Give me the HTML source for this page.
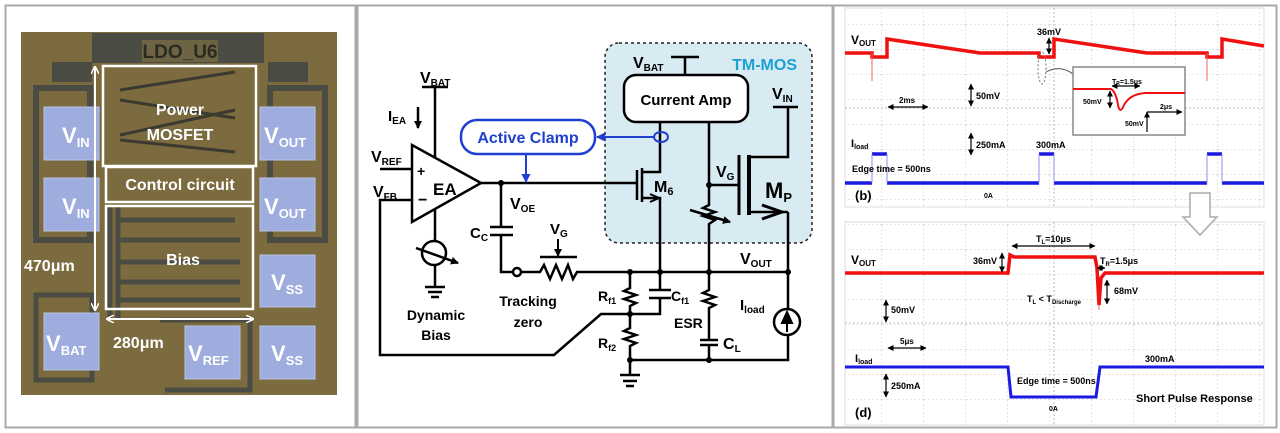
<!DOCTYPE html>
<html><head><meta charset="utf-8"><style>
html,body{margin:0;padding:0;background:#fff;width:1280px;height:433px;overflow:hidden}
svg{display:block}
text{font-family:"Liberation Sans",sans-serif;font-weight:bold}
</style></head><body>
<svg width="1280" height="433" viewBox="0 0 1280 433" xmlns="http://www.w3.org/2000/svg">
<defs>
<marker id="ah" markerWidth="8" markerHeight="8" refX="7" refY="4" orient="auto" markerUnits="userSpaceOnUse"><path d="M0,0 L8,4 L0,8 z" fill="#000"/></marker>
<marker id="ahb" markerWidth="9" markerHeight="9" refX="8" refY="4.5" orient="auto" markerUnits="userSpaceOnUse"><path d="M0,0 L9,4.5 L0,9 z" fill="#1f3fd0"/></marker>
<marker id="aw" markerWidth="8" markerHeight="8" refX="7" refY="4" orient="auto-start-reverse" markerUnits="userSpaceOnUse"><path d="M0,0 L8,4 L0,8" fill="none" stroke="#fff" stroke-width="1.5"/></marker>
<marker id="ak" markerWidth="6" markerHeight="6" refX="5.5" refY="3" orient="auto-start-reverse" markerUnits="userSpaceOnUse"><path d="M0,0 L6,3 L0,6 z" fill="#000"/></marker>
<pattern id="grid" width="42" height="25" patternUnits="userSpaceOnUse"><path d="M42,0 V25 M0,25 H42" stroke="#ccc" stroke-width="1" stroke-dasharray="2,2" fill="none"/></pattern>
</defs>

<rect x="5.5" y="5.5" width="350" height="422" fill="#fff" stroke="#aaa" stroke-width="2"/>
<rect x="357.5" y="5.5" width="475" height="422" fill="#fff" stroke="#aaa" stroke-width="2"/>
<rect x="833.5" y="5.5" width="443" height="422" fill="#fff" stroke="#aaa" stroke-width="2"/>

<!-- Panel 1 -->
<rect x="21" y="32" width="316" height="363" fill="#7b6b3e"/>
<rect x="92" y="33" width="172" height="30" fill="#4b4d44"/>
<rect x="142" y="40" width="76" height="22" fill="#6e6444"/>
<text x="180" y="58" font-size="19" fill="#2a2a20" text-anchor="middle">LDO_U6</text>
<rect x="52" y="62" width="40" height="20" fill="#4b4d44"/>
<rect x="268" y="62" width="40" height="20" fill="#4b4d44"/>
<path d="M36,88 H90 V240 H36 Z M270,88 H325 V240 H270 Z" fill="none" stroke="#4b4d44" stroke-width="6"/>
<path d="M36,295 H92 V380 H36 Z M110,205 V320 M118,205 V320 M160,320 H250 V390 H165" fill="none" stroke="#4b4d44" stroke-width="5"/>
<path d="M120,220 H235 M120,240 H240 M120,262 H240 M120,282 H240 M120,300 H240" stroke="#4b4d44" stroke-width="5"/>
<path d="M120,90 L235,72 M120,100 L235,118 M120,135 L235,110 M120,140 L235,152" stroke="#3a3a30" stroke-width="3" fill="none"/>
<g fill="#9eaddd" stroke="#b8c4e8" stroke-width="1">
<rect x="44" y="107" width="55" height="53"/><rect x="44" y="178" width="55" height="53"/><rect x="44" y="313" width="55" height="57"/>
<rect x="260" y="107" width="55" height="53"/><rect x="260" y="178" width="55" height="53"/><rect x="260" y="255" width="55" height="52"/><rect x="260" y="326" width="55" height="53"/><rect x="185" y="326" width="55" height="53"/>
</g>
<g fill="none" stroke="#fff" stroke-width="2.5">
<rect x="103" y="66" width="153" height="100"/>
<rect x="106" y="167" width="147" height="35"/>
<rect x="106" y="206" width="147" height="103"/>
</g>
<line x1="95" y1="67" x2="95" y2="310" stroke="#fff" stroke-width="2" marker-start="url(#aw)" marker-end="url(#aw)"/>
<line x1="107" y1="319" x2="253" y2="319" stroke="#fff" stroke-width="2" marker-start="url(#aw)" marker-end="url(#aw)"/>
<g fill="#fff">
<text x="180" y="115" font-size="16" text-anchor="middle">Power</text>
<text x="180" y="140" font-size="16" text-anchor="middle">MOSFET</text>
<text x="180" y="190" font-size="16" text-anchor="middle">Control circuit</text>
<text x="183" y="265" font-size="16" text-anchor="middle">Bias</text>
<text x="24" y="271" font-size="16">470μm</text>
<text x="113" y="348" font-size="16">280μm</text>
<text x="62" y="143" font-size="22">V<tspan font-size="13" dy="4">IN</tspan></text>
<text x="62" y="214" font-size="22">V<tspan font-size="13" dy="4">IN</tspan></text>
<text x="46" y="351" font-size="22">V<tspan font-size="13" dy="4">BAT</tspan></text>
<text x="264" y="143" font-size="22">V<tspan font-size="13" dy="4">OUT</tspan></text>
<text x="264" y="214" font-size="22">V<tspan font-size="13" dy="4">OUT</tspan></text>
<text x="271" y="290" font-size="22">V<tspan font-size="13" dy="4">SS</tspan></text>
<text x="271" y="361" font-size="22">V<tspan font-size="13" dy="4">SS</tspan></text>
<text x="188" y="361" font-size="22">V<tspan font-size="13" dy="4">REF</tspan></text>
</g>

<!-- Panel 2 -->
<rect x="605" y="43" width="207" height="200" rx="14" fill="#d8ebf3" stroke="#222" stroke-width="1.5" stroke-dasharray="3,3"/>
<text x="797" y="70" font-size="16" fill="#1ba0d2" text-anchor="end">TM-MOS</text>
<g stroke="#000" stroke-width="2.5" fill="none">
<path d="M671,57 H699 M685,57 V75"/>
<rect x="624" y="75" width="124" height="47" rx="12" fill="#fff"/>
<path d="M773,107 H798 M788,107 V157 H750"/>
<path d="M412,145 L412,222 L481,183 Z"/>
<path d="M422,87 H448 M435,87 V158"/>
<path d="M380,169 H412 M412,200 H380 V355 H554 L601,314 H660 V298"/>
<path d="M435,210 V241 M435,265 V287 M425,287 H445 M428,292 H442 M431,297 H439"/>
<circle cx="434" cy="253" r="12"/>
<path d="M481,183 H636"/>
<path d="M501,183 V227 M490,227 H513 M490,235 H513 M501,235 V272 H513"/>
<circle cx="517" cy="272" r="4"/>
<path d="M521,272 H540 L544,265 L550,279 L556,265 L562,279 L568,265 L573,279 L577,272 H788"/>
<path d="M540,257 H577"/>
<path d="M637,170 V200 M642,168 V202 M642,172 H660 V122 M642,198 H660 V290 M649,290 H671 M649,298 H671"/>
<path d="M709,122 V205 L703,208 L715,212 L703,216 L715,220 L709,224 V290 L703,293 L715,297 L703,301 L715,305 L709,308 V340 M700,340 H718 M700,345 H718 M709,345 V360"/>
<path d="M709,185 H738"/>
<path d="M739,155 V215" stroke-width="3"/>
<path d="M749,155 V215" stroke-width="4"/>
<path d="M749,212 H788 M788,212 V310 M788,335 V360 H630"/>
<circle cx="787" cy="322" r="13"/>
<path d="M630,272 V288 L624,291 L636,295 L624,299 L636,303 L630,306 V328 L624,331 L636,335 L624,339 L636,343 L630,346 V375 M620,375 H640 M623,381 H637 M626,386 H634"/>
</g>
<path d="M787,312 L782,323 L792,323 Z M787,312 V332" fill="#000" stroke="#000" stroke-width="2"/>
<path d="M762,205 L782,212 L762,219" fill="none" stroke="#000" stroke-width="3"/>
<path d="M650,194 L659,198 L650,202" fill="none" stroke="#000" stroke-width="2"/>
<line x1="690" y1="210" x2="730" y2="222" stroke="#000" stroke-width="2.5" marker-end="url(#ah)"/>
<line x1="416" y1="248" x2="458" y2="263" stroke="#000" stroke-width="2.5" marker-end="url(#ah)"/>
<line x1="558" y1="239" x2="558" y2="256" stroke="#000" stroke-width="2" marker-end="url(#ah)"/>
<line x1="418" y1="107" x2="418" y2="128" stroke="#000" stroke-width="2.5" marker-end="url(#ah)"/>
<g fill="#000"><circle cx="501" cy="183" r="3"/><circle cx="630" cy="272" r="3"/><circle cx="660" cy="272" r="3"/><circle cx="709" cy="272" r="3"/><circle cx="788" cy="272" r="3"/><circle cx="709" cy="185" r="3"/><circle cx="630" cy="314" r="3"/><circle cx="630" cy="360" r="3"/><circle cx="709" cy="360" r="3"/></g>
<rect x="461" y="120" width="134" height="34" rx="16" fill="#fff" stroke="#1f3fd0" stroke-width="2.5"/>
<text x="528" y="143" font-size="16" fill="#1f3fd0" text-anchor="middle">Active Clamp</text>
<ellipse cx="661" cy="137" rx="7" ry="5" fill="none" stroke="#1f3fd0" stroke-width="2"/>
<line x1="654" y1="137" x2="597" y2="137" stroke="#1f3fd0" stroke-width="2" marker-end="url(#ahb)"/>
<line x1="526" y1="154" x2="526" y2="182" stroke="#1f3fd0" stroke-width="2" marker-end="url(#ahb)"/>
<g fill="#000">
<text x="686" y="105" font-size="15" text-anchor="middle">Current Amp</text>
<text x="633" y="68" font-size="16">V<tspan font-size="10" dy="3">BAT</tspan></text>
<text x="420" y="83" font-size="16">V<tspan font-size="10" dy="3">BAT</tspan></text>
<text x="772" y="99" font-size="16">V<tspan font-size="10" dy="3">IN</tspan></text>
<text x="388" y="121" font-size="15">I<tspan font-size="10" dy="3">EA</tspan></text>
<text x="371" y="162" font-size="16">V<tspan font-size="10" dy="3">REF</tspan></text>
<text x="373" y="197" font-size="16">V<tspan font-size="10" dy="3">FB</tspan></text>
<text x="417" y="176" font-size="14">+</text>
<text x="418" y="205" font-size="16">−</text>
<text x="433" y="195" font-size="17">EA</text>
<text x="510" y="209" font-size="16">V<tspan font-size="10" dy="3">OE</tspan></text>
<text x="470" y="238" font-size="15">C<tspan font-size="10" dy="3">C</tspan></text>
<text x="550" y="234" font-size="15">V<tspan font-size="10" dy="3">G</tspan></text>
<text x="654" y="192" font-size="16">M<tspan font-size="11" dy="3">6</tspan></text>
<text x="716" y="177" font-size="16">V<tspan font-size="10" dy="3">G</tspan></text>
<text x="765" y="198" font-size="22">M<tspan font-size="13" dy="4">P</tspan></text>
<text x="740" y="264" font-size="16">V<tspan font-size="10" dy="3">OUT</tspan></text>
<text x="598" y="301" font-size="14">R<tspan font-size="9" dy="3">f1</tspan></text>
<text x="598" y="348" font-size="14">R<tspan font-size="9" dy="3">f2</tspan></text>
<text x="671" y="301" font-size="14">C<tspan font-size="9" dy="3">f1</tspan></text>
<text x="674" y="328" font-size="14">ESR</text>
<text x="723" y="349" font-size="16">C<tspan font-size="10" dy="3">L</tspan></text>
<text x="740" y="310" font-size="15">I<tspan font-size="10" dy="3">load</tspan></text>
<text x="436" y="320" font-size="14" text-anchor="middle">Dynamic</text>
<text x="436" y="340" font-size="14" text-anchor="middle">Bias</text>
<text x="528" y="306" font-size="14" text-anchor="middle">Tracking</text>
<text x="528" y="327" font-size="14" text-anchor="middle">zero</text>
</g>

<!-- Panel 3 -->
<rect x="845" y="8" width="419" height="199" fill="url(#grid)" stroke="#ddd"/>
<rect x="845" y="222" width="419" height="203" fill="url(#grid)" stroke="#ddd"/>
<line x1="1054" y1="8" x2="1054" y2="207" stroke="#bbb" stroke-dasharray="2,2"/>
<line x1="845" y1="108" x2="1264" y2="108" stroke="#bbb" stroke-dasharray="2,2"/>
<line x1="1054" y1="222" x2="1054" y2="425" stroke="#bbb" stroke-dasharray="2,2"/>
<line x1="845" y1="323" x2="1264" y2="323" stroke="#bbb" stroke-dasharray="2,2"/>
<path d="M845,53 H872 V57 H887 V39 L980,53 H1039 V57 H1054 V39 L1147,53 H1207 V57 H1222 V39 L1264,46" fill="none" stroke="#f01010" stroke-width="3.5"/>
<path d="M872,53 V81 M1207,53 V81" stroke="#f06060" stroke-width="1"/>
<ellipse cx="1042" cy="68" rx="4" ry="16" fill="none" stroke="#777" stroke-dasharray="2,2"/>
<path d="M1046,72 Q1062,63 1078,78" fill="none" stroke="#555" stroke-width="1"/>
<path d="M845,183 H872 M887,183 H1039 M1054,183 H1207 M1222,183 H1264 M872,154 H887 M1039,154 H1054 M1207,154 H1222" fill="none" stroke="#1a1ae0" stroke-width="3.5"/>
<path d="M872,154 V183 M887,154 V183 M1039,154 V183 M1054,154 V183 M1207,154 V183 M1222,154 V183" stroke="#9090f0" stroke-width="1"/>
<rect x="1073" y="67" width="112" height="68" fill="#fff" stroke="#888" stroke-width="1.5"/>
<path d="M1073,89 H1111 Q1116,92 1118,105 Q1120,115 1124,105 Q1130,94 1145,93 H1185" fill="none" stroke="#f01010" stroke-width="2"/>
<g stroke="#000" stroke-width="1.2">
<line x1="1112" y1="86" x2="1140" y2="86" marker-start="url(#ak)" marker-end="url(#ak)"/>
<line x1="1110" y1="91" x2="1110" y2="108" marker-start="url(#ak)" marker-end="url(#ak)"/>
<line x1="1147" y1="112" x2="1182" y2="112" marker-end="url(#ak)"/>
<line x1="1147" y1="112" x2="1147" y2="132" marker-start="url(#ak)"/>
<line x1="888" y1="107" x2="928" y2="107" marker-start="url(#ak)" marker-end="url(#ak)"/>
<line x1="971" y1="84" x2="971" y2="106" marker-start="url(#ak)" marker-end="url(#ak)"/>
<line x1="971" y1="133" x2="971" y2="155" marker-start="url(#ak)" marker-end="url(#ak)"/>
<line x1="1049" y1="38" x2="1049" y2="54" marker-start="url(#ak)" marker-end="url(#ak)"/>
</g>
<g fill="#000" font-size="9">
<text x="1112" y="84" font-size="7">T<tspan font-size="5" dy="1">R</tspan><tspan dy="-1">=1.5μs</tspan></text>
<text x="1083" y="104" font-size="7">50mV</text>
<text x="1125" y="126" font-size="7">50mV</text>
<text x="1160" y="109" font-size="7">2μs</text>
<text x="851" y="44" font-size="12">V<tspan font-size="8" dy="2">OUT</tspan></text>
<text x="1037" y="35" font-size="9">36mV</text>
<text x="899" y="103" font-size="8">2ms</text>
<text x="976" y="99">50mV</text>
<text x="851" y="147" font-size="11">I<tspan font-size="7" dy="2">load</tspan></text>
<text x="976" y="148">250mA</text>
<text x="1036" y="148">300mA</text>
<text x="852" y="172">Edge time = 500ns</text>
<text x="984" y="198" font-size="7">0A</text>
<text x="855" y="200" font-size="13">(b)</text>
</g>
<path d="M1190,193 H1210 V217 H1217 L1200,235 L1183,217 H1190 Z" fill="#fff" stroke="#aaa" stroke-width="1.5"/>
<path d="M845,273 H1008 L1010,255 L1014,257 H1095 L1097,268 L1099,305 L1101,278 L1105,273 H1264" fill="none" stroke="#f01010" stroke-width="3.5"/>
<path d="M1099,305 V310" stroke="#f06060" stroke-width="1"/>
<path d="M845,367 H1008 L1011,397 H1096 L1100,367 H1264" fill="none" stroke="#1a1ae0" stroke-width="3"/>
<g stroke="#000" stroke-width="1.2">
<line x1="1012" y1="246" x2="1095" y2="246" marker-start="url(#ak)" marker-end="url(#ak)"/>
<line x1="1002" y1="253" x2="1002" y2="272" marker-start="url(#ak)" marker-end="url(#ak)"/>
<line x1="1097" y1="268" x2="1105" y2="268" marker-start="url(#ak)" marker-end="url(#ak)"/>
<line x1="1107" y1="280" x2="1107" y2="304" marker-start="url(#ak)" marker-end="url(#ak)"/>
<line x1="886" y1="300" x2="886" y2="322" marker-start="url(#ak)" marker-end="url(#ak)"/>
<line x1="888" y1="348" x2="926" y2="348" marker-start="url(#ak)" marker-end="url(#ak)"/>
<line x1="886" y1="374" x2="886" y2="397" marker-start="url(#ak)" marker-end="url(#ak)"/>
</g>
<g fill="#000" font-size="9">
<text x="1036" y="242">T<tspan font-size="6" dy="2">L</tspan><tspan dy="-2">=10μs</tspan></text>
<text x="973" y="264">36mV</text>
<text x="1100" y="264">T<tspan font-size="6" dy="2">R</tspan><tspan dy="-2">=1.5μs</tspan></text>
<text x="1114" y="294">68mV</text>
<text x="1027" y="302">T<tspan font-size="6" dy="2">L</tspan><tspan dy="-2"> &lt; T</tspan><tspan font-size="6" dy="2">Discharge</tspan></text>
<text x="851" y="264" font-size="12">V<tspan font-size="8" dy="2">OUT</tspan></text>
<text x="891" y="313">50mV</text>
<text x="900" y="344" font-size="8">5μs</text>
<text x="855" y="362" font-size="11">I<tspan font-size="7" dy="2">load</tspan></text>
<text x="1145" y="362">300mA</text>
<text x="891" y="389">250mA</text>
<text x="1017" y="384">Edge time = 500ns</text>
<text x="1049" y="411" font-size="7">0A</text>
<text x="1136" y="402" font-size="11">Short Pulse Response</text>
<text x="855" y="417" font-size="13">(d)</text>
</g>
</svg>
</body></html>
